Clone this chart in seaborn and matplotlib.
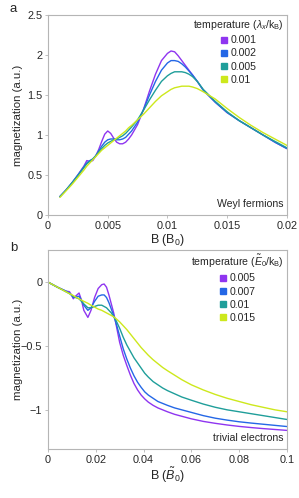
import numpy as np
import pandas as pd
import seaborn as sns
import matplotlib.pyplot as plt
from matplotlib.lines import Line2D

# ---- panel a : Weyl fermions ----
B_a = [0.001, 0.0015, 0.002, 0.0025, 0.003, 0.00325, 0.0035, 0.00375, 0.004, 0.00425,
       0.0045, 0.00475, 0.005, 0.00525, 0.0055, 0.00575, 0.006, 0.00625, 0.0065, 0.00675,
       0.007, 0.0075, 0.008, 0.0085, 0.009, 0.0095, 0.01, 0.0103, 0.0106, 0.0109,
       0.0112, 0.0115, 0.0118, 0.0121, 0.0125, 0.013, 0.014, 0.015, 0.016, 0.017,
       0.018, 0.019, 0.02]
M_a_0001 = [0.23, 0.31, 0.40, 0.50, 0.61, 0.68, 0.67, 0.68, 0.74, 0.82,
            0.92, 1.01, 1.05, 1.02, 0.96, 0.91, 0.89, 0.89, 0.91, 0.95,
            1.00, 1.13, 1.32, 1.55, 1.76, 1.93, 2.02, 2.05, 2.04, 1.99,
            1.93, 1.87, 1.81, 1.75, 1.67, 1.56, 1.41, 1.28, 1.18, 1.09,
            1.00, 0.91, 0.83]
M_a_0002 = [0.23, 0.31, 0.40, 0.50, 0.60, 0.65, 0.68, 0.70, 0.74, 0.80,
            0.86, 0.91, 0.94, 0.95, 0.95, 0.94, 0.94, 0.95, 0.97, 1.01,
            1.05, 1.16, 1.32, 1.50, 1.67, 1.81, 1.90, 1.93, 1.93, 1.92,
            1.89, 1.85, 1.80, 1.75, 1.67, 1.56, 1.41, 1.28, 1.18, 1.09,
            1.00, 0.91, 0.83]
M_a_0005 = [0.23, 0.31, 0.40, 0.49, 0.59, 0.64, 0.67, 0.70, 0.74, 0.79,
            0.83, 0.87, 0.90, 0.92, 0.94, 0.95, 0.97, 0.99, 1.02, 1.06,
            1.10, 1.19, 1.31, 1.44, 1.56, 1.67, 1.74, 1.77, 1.79, 1.79,
            1.79, 1.78, 1.76, 1.73, 1.67, 1.57, 1.42, 1.29, 1.18, 1.09,
            1.00, 0.92, 0.84]
M_a_001 = [0.22, 0.30, 0.38, 0.47, 0.56, 0.61, 0.65, 0.69, 0.73, 0.77,
           0.81, 0.84, 0.87, 0.90, 0.93, 0.96, 0.99, 1.02, 1.05, 1.09,
           1.12, 1.19, 1.26, 1.34, 1.42, 1.49, 1.54, 1.57, 1.59, 1.60,
           1.61, 1.61, 1.61, 1.60, 1.58, 1.54, 1.45, 1.33, 1.22, 1.12,
           1.03, 0.95, 0.87]
temps_a = ["0.001", "0.002", "0.005", "0.01"]

# ---- panel b : trivial electrons ----
B_b = [0.0, 0.004, 0.0075, 0.009, 0.0098, 0.0106, 0.0115, 0.013, 0.014, 0.015,
       0.0167, 0.018, 0.0195, 0.021, 0.0225, 0.0235, 0.0245, 0.0255, 0.0265, 0.0275,
       0.0285, 0.03, 0.0315, 0.033, 0.0345, 0.036, 0.0375, 0.039, 0.0405, 0.042,
       0.044, 0.046, 0.048, 0.05, 0.053, 0.056, 0.06, 0.065, 0.07, 0.075,
       0.08, 0.085, 0.09, 0.095, 0.1]
M_b_0005 = [0.0, -0.04, -0.07, -0.075, -0.10, -0.13, -0.11, -0.085, -0.14, -0.22,
            -0.275, -0.22, -0.12, -0.05, -0.02, -0.015, -0.04, -0.10, -0.17, -0.24,
            -0.33, -0.47, -0.57, -0.65, -0.725, -0.79, -0.84, -0.88, -0.91, -0.935,
            -0.96, -0.98, -0.995, -1.01, -1.03, -1.045, -1.065, -1.085, -1.10, -1.113,
            -1.124, -1.133, -1.141, -1.148, -1.155]
M_b_0007 = [0.0, -0.04, -0.07, -0.085, -0.10, -0.12, -0.115, -0.11, -0.14, -0.18,
            -0.22, -0.20, -0.15, -0.11, -0.10, -0.10, -0.12, -0.16, -0.21, -0.26,
            -0.32, -0.42, -0.52, -0.60, -0.67, -0.73, -0.78, -0.82, -0.855, -0.88,
            -0.905, -0.93, -0.945, -0.96, -0.98, -0.995, -1.015, -1.04, -1.06, -1.075,
            -1.088, -1.098, -1.107, -1.116, -1.125]
M_b_001 = [0.0, -0.04, -0.075, -0.09, -0.10, -0.11, -0.12, -0.13, -0.15, -0.17,
           -0.20, -0.20, -0.19, -0.18, -0.18, -0.19, -0.20, -0.22, -0.24, -0.27,
           -0.30, -0.36, -0.43, -0.49, -0.54, -0.59, -0.63, -0.67, -0.71, -0.74,
           -0.775, -0.80, -0.825, -0.845, -0.87, -0.895, -0.92, -0.95, -0.975, -0.995,
           -1.01, -1.025, -1.04, -1.055, -1.07]
M_b_0015 = [0.0, -0.04, -0.075, -0.09, -0.097, -0.105, -0.115, -0.13, -0.14, -0.15,
            -0.165, -0.18, -0.195, -0.21, -0.22, -0.23, -0.24, -0.25, -0.26, -0.27,
            -0.285, -0.31, -0.34, -0.37, -0.405, -0.44, -0.475, -0.51, -0.54, -0.57,
            -0.605, -0.635, -0.665, -0.69, -0.725, -0.76, -0.80, -0.84, -0.875, -0.905,
            -0.93, -0.955, -0.975, -0.995, -1.01]
temps_b = ["0.005", "0.007", "0.01", "0.015"]

colors = ["#8f35f0", "#2467e6", "#1f9e9a", "#cde81c"]

sns.set_style("white")
plt.rcParams['font.family'] = ['Liberation Sans', 'DejaVu Sans']
plt.rcParams['mathtext.fontset'] = 'custom'
plt.rcParams['mathtext.rm'] = 'Liberation Sans'
plt.rcParams['mathtext.it'] = 'Liberation Sans:italic'
plt.rcParams['axes.unicode_minus'] = True


def long_df(x, series, labels):
    frames = []
    for s, lab in zip(series, labels):
        frames.append(pd.DataFrame({"B": x, "M": s, "T": lab}))
    return pd.concat(frames, ignore_index=True)


df_a = long_df(B_a, [M_a_0001, M_a_0002, M_a_0005, M_a_001], temps_a)
df_b = long_df(B_b, [M_b_0005, M_b_0007, M_b_001, M_b_0015], temps_b)

fig = plt.figure(figsize=(2.99, 4.98), dpi=100)
ax1 = fig.add_axes([0.1605, 0.5683, 0.799, 0.4016])
ax2 = fig.add_axes([0.1605, 0.0984, 0.799, 0.3996])

for ax, df, temps in [(ax1, df_a, temps_a), (ax2, df_b, temps_b)]:
    sns.lineplot(data=df, x="B", y="M", hue="T", hue_order=temps,
                 palette=colors, lw=1, ax=ax, legend=False, sort=False)
    for sp in ax.spines.values():
        sp.set_color("#b5b5b5")
        sp.set_linewidth(0.8)
    ax.tick_params(axis="both", which="major", length=2, width=0.6,
                   color="#b5b5b5", labelsize=7.8, pad=2, direction="out",
                   bottom=True, left=True)
    ax.set_ylabel("magnetization (a.u.)", fontsize=8.2)
    ax.yaxis.set_label_coords(-0.105, 0.5)

# panel a axes
ax1.set_xlim(0, 0.02)
ax1.set_ylim(0, 2.5)
ax1.set_xticks([0, 0.005, 0.01, 0.015, 0.02])
ax1.set_xticklabels(["0", "0.005", "0.01", "0.015", "0.02"])
ax1.set_yticks([0, 0.5, 1, 1.5, 2, 2.5])
ax1.set_yticklabels(["0", "0.5", "1", "1.5", "2", "2.5"])
ax1.set_xlabel("B (B$_0$)", fontsize=9, labelpad=1)
ax1.text(0.985, 0.03, "Weyl fermions", transform=ax1.transAxes,
         ha="right", va="bottom", fontsize=7.6)

# panel b axes
ax2.set_xlim(0, 0.1)
ax2.set_ylim(-1.3, 0.25)
ax2.set_xticks([0, 0.02, 0.04, 0.06, 0.08, 0.1])
ax2.set_xticklabels(["0", "0.02", "0.04", "0.06", "0.08", "0.1"])
ax2.set_yticks([0, -0.5, -1])
ax2.set_yticklabels(["0", "\u22120.5", "\u22121"])
ax2.set_xlabel("B ($\\tilde{B}_0$)", fontsize=9, labelpad=1)
ax2.text(0.985, 0.03, "trivial electrons", transform=ax2.transAxes,
         ha="right", va="bottom", fontsize=7.6)


def square_legend(ax, labels, title):
    handles = [Line2D([], [], ls="none", marker="s", markersize=4.5,
                      markerfacecolor=c, markeredgecolor=c) for c in colors]
    leg = ax.legend(handles, labels, title=title, loc="upper right",
                    frameon=False, fontsize=7.6, title_fontsize=7.6,
                    handlelength=0.7, handletextpad=0.3, labelspacing=0.3,
                    borderaxespad=0.2, borderpad=0.1)
    return leg


square_legend(ax1, temps_a, "temperature ($\\lambda_x$/k$_\\mathrm{B}$)")
square_legend(ax2, temps_b, "temperature ($\\tilde{E}_0$/k$_\\mathrm{B}$)")

fig.text(10 / 299, 1 - 9 / 498, "a", fontsize=9.5, ha="left", va="center")
fig.text(10 / 299, 1 - 248 / 498, "b", fontsize=9.5, ha="left", va="center")

fig.savefig("out.png", dpi=100)
